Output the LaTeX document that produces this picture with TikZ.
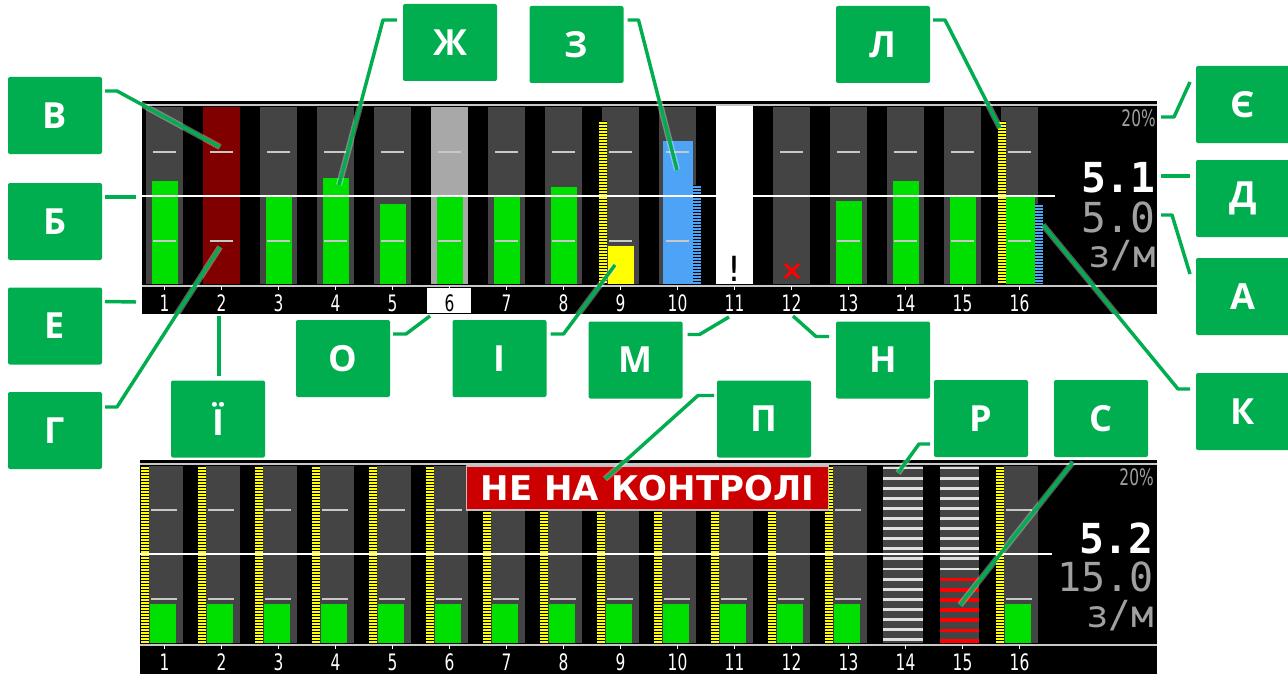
\documentclass[tikz,border=0pt]{standalone}
\usepackage{fontspec}
\setmainfont{Open Sans}
\newfontfamily\lcdfont{DejaVu Sans}[FakeStretch=0.68]
\newfontfamily\numfont{DejaVu Sans Mono}
\newfontfamily\bannerfont{DejaVu Sans}
\usetikzlibrary{calc}
\definecolor{taggreen}  {HTML}{00AE4F}
\definecolor{colgrey}   {HTML}{444444}
\definecolor{colpale}   {HTML}{A8A8A8}
\definecolor{colmaroon} {HTML}{800000}
\definecolor{bargreen}  {HTML}{00E000}
\definecolor{barblue}   {HTML}{4DA3F5}
\definecolor{baryellow} {HTML}{FFFF00}
\definecolor{dashgrey}  {HTML}{C8C8C8}
\definecolor{txtgrey}   {HTML}{A0A0A0}
\definecolor{bannerred} {HTML}{CC0000}

\tikzset{
  tag/.style={fill=taggreen, text=white, rounded corners=1.5pt, inner sep=0pt, outer sep=0pt,
    minimum width=70.5pt, minimum height=57.75pt, font=\bfseries\fontsize{27}{30}\selectfont},
  leader/.style={draw=taggreen, line width=2.6pt, line join=round,
    preaction={draw=white, opacity=0.35, line width=4.6pt}},
  markline/.style={dashgrey, line width=1.5pt},
  ticked/.style={black, line width=6pt, dash pattern=on 0.8pt off 1.45pt},
  colnum/.style={text=white, inner sep=0pt, anchor=base, font=\lcdfont\fontsize{17}{18}\selectfont},
  readout/.style={inner sep=0pt, anchor=base east},
}

\begin{document}
\begin{tikzpicture}[x=0.75pt, y=-0.75pt]
\useasboundingbox (0,0) rectangle (1288,674);
\fill[white] (0,0) rectangle (1288,674);

% upper screen
\fill[black] (142,101) rectangle (1157,314);
\draw[dashgrey, line width=1.5pt] (142,105) -- (1157,105);
\foreach \i [evaluate=\i as \L using 146+57*(\i-1)] in {1,...,16}
  \fill[colgrey] (\L,107) rectangle ++(37,177);
\fill[colmaroon] (203,107) rectangle ++(37,177);
\fill[colpale] (431,107) rectangle ++(37,177);
\fill[white] (716,106) rectangle ++(37,178);
\foreach \i/\t in {1/181,3/197,4/178,5/204,6/197,7/197,8/187,13/201,14/181,15/197}
  \fill[bargreen] ({146+57*(\i-1)+6},\t) rectangle ({146+57*(\i-1)+32},284);
\fill[bargreen] (1006,197) rectangle (1035,284);
\fill[barblue] (663,141) rectangle (693,284);
\fill[baryellow] (608,246) rectangle (634,284);
\foreach \x/\t in {697/185,1039/204}{
  \draw[barblue, line width=6pt] (\x,\t) -- (\x,284);
  \draw[ticked] (\x,\t) -- (\x,284);
}
\foreach \x in {602.5,1001.5}{
  \draw[baryellow, line width=6pt] (\x,121) -- (\x,284);
  \draw[ticked] (\x,121) -- (\x,284);
}
\foreach \i [evaluate=\i as \L using 146+57*(\i-1)] in {1,...,10,12,13,14,15,16}
  \draw[markline] (\L+7,151.5) -- ++(23,0);
\foreach \i [evaluate=\i as \L using 146+57*(\i-1)] in {1,...,10,13,14,15,16}
  \draw[markline] (\L+7,240.5) -- ++(23,0);
\draw[white, line width=1pt] (142,196) -- (1055,196);
\node[text=black, inner sep=0pt, font=\bannerfont\fontsize{26}{28}\selectfont] (warnU) at (734.5,269) {!};
\draw[red, line width=2.2pt] (785,264) -- (799,278) (785,278) -- (799,264);
\draw[dashgrey, line width=1.5pt] (142,285.5) -- (1157,285.5);
\fill[white] (427,287.5) rectangle (471,313);
\foreach \i [evaluate=\i as \C using 164.5+57*(\i-1)] in {1,...,16}
  \draw[white, line width=0.8pt] (\C,286) -- (\C,289.5);
\foreach \i [evaluate=\i as \C using 164.5+57*(\i-1)] in {1,...,5,7,8,...,16}
  \node[colnum] (u\i) at (\C,311) {\i};
\node[colnum, text=black] (u6) at (449.5,311) {6};
\node[readout, text=txtgrey, font=\lcdfont\fontsize{17}{18}\selectfont] (pctU) at (1156,126) {20\%};
\node[readout, text=white, font=\numfont\bfseries\fontsize{31}{32}\selectfont] (rateU) at (1156,192) {5.1};
\node[readout, text=txtgrey, font=\numfont\fontsize{31}{32}\selectfont] (setU) at (1156,232) {5.0};
\node[readout, text=txtgrey, font=\numfont\fontsize{28}{30}\selectfont] (unitU) at (1156,267) {з/м};

% lower screen
\fill[black] (140,460) rectangle (1157,674);
\draw[dashgrey, line width=1.5pt] (140,464) -- (1157,464);
\foreach \i [evaluate=\i as \L using 146+57*(\i-1)] in {1,...,13,16}{
  \fill[colgrey] (\L,466) rectangle ++(37,177);
  \fill[bargreen] (\L+4,604) rectangle (\L+30,643);
  \draw[markline] (\L+5,510) -- ++(26,0);
  \draw[markline] (\L+5,599) -- ++(26,0);
  \draw[baryellow, line width=6pt] (\L-1,466) -- (\L-1,643);
  \draw[ticked] (\L-1,466) -- (\L-1,643);
}
\fill[colgrey] (883,466) rectangle (923,643);
\fill[colgrey] (940,466) rectangle (979,643);
\draw[white, line width=1pt] (140,554) -- (1052,554);
\foreach \k in {0,...,17}
  \draw[white!88!black, line width=2.2pt] (883,468+10.1*\k) -- (923,468+10.1*\k);
\foreach \k in {0,...,10}
  \draw[white!88!black, line width=2.2pt] (940,468+10.1*\k) -- (979,468+10.1*\k);
\foreach \k in {0,...,6}
  \draw[red, line width=2.8pt] (940,579.5+10.2*\k) -- (979,579.5+10.2*\k);
\node[fill=bannerred, draw=white!75!black, line width=0.8pt, text=white, inner sep=0pt,
  minimum width=272pt, minimum height=33pt, font=\bannerfont\bfseries\fontsize{25.5}{27}\selectfont]
  (warnL) at (647.5,488) {НЕ НА КОНТРОЛІ};
\draw[dashgrey, line width=1.5pt] (140,644.5) -- (1157,644.5);
\foreach \i [evaluate=\i as \C using 164.5+57*(\i-1)] in {1,...,16}{
  \draw[white, line width=0.8pt] (\C,645) -- (\C,648.5);
  \node[colnum] (d\i) at (\C,670) {\i};
}
\node[readout, text=txtgrey, font=\lcdfont\fontsize{17}{18}\selectfont] (pctL) at (1154,485) {20\%};
\node[readout, text=white, font=\numfont\bfseries\fontsize{31}{32}\selectfont] (rateL) at (1154,553) {5.2};
\node[readout, text=txtgrey, font=\numfont\fontsize{30}{32}\selectfont] (setL) at (1154,591) {15.0};
\node[readout, text=txtgrey, font=\numfont\fontsize{28}{30}\selectfont] (unitL) at (1154,627) {з/м};

% callouts
\node[tag] (tagV)  at (55,115.5)   {В};
\node[tag] (tagB)  at (55,221.5)   {Б};
\node[tag] (tagE)  at (55,326)     {Е};
\node[tag] (tagG)  at (55,430.5)   {Г};
\node[tag] (tagYi) at (218,419)    {Ї};
\node[tag] (tagZh) at (450,42.5)   {Ж};
\node[tag] (tagZ)  at (576.5,44.5) {З};
\node[tag] (tagL)  at (883,44.5)   {Л};
\node[tag] (tagYe) at (1243,104.5) {Є};
\node[tag] (tagD)  at (1243,198.5) {Д};
\node[tag] (tagA)  at (1243,296.5) {А};
\node[tag] (tagK)  at (1243,411.5) {К};
\node[tag] (tagO)  at (343,358.5)  {О};
\node[tag] (tagI)  at (499.5,358.5){І};
\node[tag] (tagM)  at (635.5,360)  {М};
\node[tag] (tagN)  at (883,360)    {Н};
\node[tag] (tagP)  at (764,419)    {П};
\node[tag] (tagR)  at (981,418.5)  {Р};
\node[tag] (tagS)  at (1101,418.5) {С};

\coordinate (ptV)  at (220,147);
\coordinate (ptB)  at (136,197);
\coordinate (ptE)  at (136,302);
\coordinate (ptG)  at (220,247);
\coordinate (ptYi) at (219,316);
\coordinate (ptZh) at (339,185);
\coordinate (ptZ)  at (677,170);
\coordinate (ptL)  at (1000,128);
\coordinate (ptYe) at (1161,117);
\coordinate (ptD)  at (1161,176);
\coordinate (ptA)  at (1161,215);
\coordinate (ptK)  at (1043,225);
\coordinate (ptO)  at (430,316);
\coordinate (ptI)  at (615,265);
\coordinate (ptM)  at (729,317);
\coordinate (ptN)  at (793,316);
\coordinate (ptP)  at (605,479);
\coordinate (ptR)  at (898,473);
\coordinate (ptS)  at (960,605);

\draw[leader] ($(tagV.north east)+(3,14)$) -- ++(12,0) -- (ptV);
\draw[leader] ($(tagB.north east)+(3,14)$) -- (ptB);
\draw[leader] ($(tagE.north east)+(3,14)$) -- (ptE);
\draw[leader] ($(tagG.north east)+(3,15)$) -- ++(12,0) -- (ptG);
\draw[leader] ($(tagYi.north)+(1,-5)$) -- (ptYi);
\draw[leader] ($(tagZh.north west)+(-6,16)$) -- ++(-14,0) -- (ptZh);
\draw[leader] ($(tagZ.north east)+(4,14)$) -- ++(11,0) -- (ptZ);
\draw[leader] ($(tagL.north east)+(3,14)$) -- ++(12,0) -- (ptL);
\draw[leader] ($(tagYe.north west)+(-6,16)$) -- ++(-16,35) -- (ptYe);
\draw[leader] ($(tagD.north west)+(-6,16)$) -- (ptD);
\draw[leader] ($(tagA.north west)+(-6,16)$) -- ++(-18,-59) -- (ptA);
\draw[leader] ($(tagK.north west)+(-6,16)$) -- ++(-12,0) -- (ptK);
\draw[leader] ($(tagO.north east)+(3,14)$) -- ++(13,0) -- (ptO);
\draw[leader] ($(tagI.north east)+(4,14)$) -- ++(13,0) -- (ptI);
\draw[leader] ($(tagM.north east)+(5,13)$) -- ++(12,0) -- (ptM);
\draw[leader] ($(tagN.north west)+(-7,15)$) -- ++(-13,0) -- (ptN);
\draw[leader] ($(tagP.north west)+(-3,15)$) -- ++(-16,0) -- (ptP);
\draw[leader] ($(tagR.south west)+(-4,-13)$) -- ++(-11,0) -- (ptR);
\draw[leader] ($(tagS.south west)+(19,5)$) -- (ptS);
\end{tikzpicture}
\end{document}
